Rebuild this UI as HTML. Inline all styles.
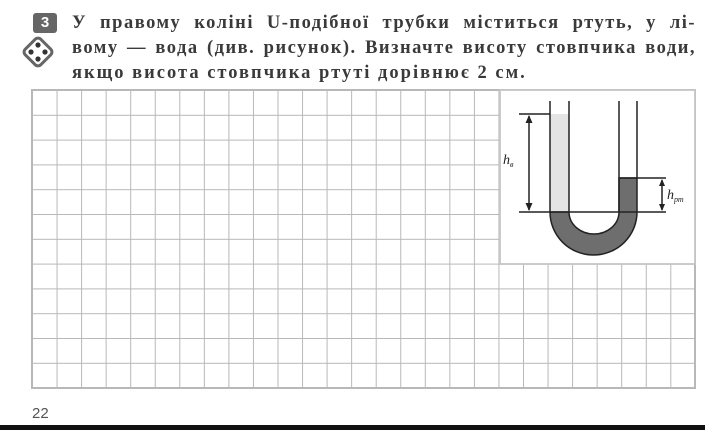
<!DOCTYPE html>
<html><head><meta charset="utf-8"><style>
body{margin:0;width:705px;height:430px;background:#fff;overflow:hidden;position:relative;font-family:"Liberation Serif",serif}
.t{position:absolute;left:72px;width:624px;font-size:18.5px;letter-spacing:1.5px;color:#3a3a3a;font-weight:bold;line-height:24px;text-align:justify;text-align-last:justify;white-space:nowrap}
</style></head><body>
<div style="position:absolute;left:33px;top:13px;width:24px;height:20px;background:#666;border-radius:3px;color:#fff;font:bold 15px 'Liberation Sans',sans-serif;text-align:center;line-height:20px">3</div>
<svg style="position:absolute;left:20px;top:34px" width="36" height="36"><rect x="7" y="7" width="22" height="22" rx="4" transform="rotate(45 18 18)" fill="#fff" stroke="#666" stroke-width="3"/><circle cx="18" cy="11" r="2.6" fill="#333"/><circle cx="11" cy="18" r="2.6" fill="#333"/><circle cx="25" cy="18" r="2.6" fill="#333"/><circle cx="18" cy="25" r="2.6" fill="#333"/></svg>
<div class="t" style="top:11px">У правому коліні U-подібної трубки міститься ртуть, у лі-</div>
<div class="t" style="top:36px">вому — вода (див. рисунок). Визначте висоту стовпчика води,</div>
<div class="t" style="top:61px;width:auto;text-align-last:auto;letter-spacing:2px">якщо висота стовпчика ртуті дорівнює 2 см.</div>
<svg style="position:absolute;left:0;top:0" width="705" height="430">
<defs><pattern id="p" x="32" y="90" width="24.55" height="24.8" patternUnits="userSpaceOnUse"><path d="M0 0H24.55M0 0V24.8" stroke="#b8b8b8" stroke-width="2" fill="none"/></pattern></defs>
<rect x="32" y="90" width="663" height="298" fill="url(#p)"/>
<rect x="32" y="90" width="663" height="298" fill="none" stroke="#b8b8b8" stroke-width="2"/>
<rect x="500" y="90" width="195" height="174" fill="#fff" stroke="#c6c6c6" stroke-width="1.8"/>
<rect x="550" y="114" width="19" height="98" fill="#e4e4e4"/>
<path d="M550 212 A43.5 43 0 0 0 637 212 L637 178 L619 178 L619 212 A25 22 0 0 1 569 212 Z" fill="#6e6e6e" stroke="#222" stroke-width="1.5"/>
<g stroke="#222" stroke-width="1.5" fill="none">
<path d="M550 101V212M569 101V212M619 101V212M637 101V178"/>
<path d="M519 114H550M519 212H666M619 178H666"/>
<path d="M529 116V210M662 180V210"/>
</g>
<g fill="#222"><path d="M529 115l-3.5 8h7zM529 211l-3.5-8h7zM662 179l-3 7h6zM662 211l-3-7h6z"/></g>
<text x="503" y="164" font-family="Liberation Serif" font-style="italic" font-size="14" fill="#222">h<tspan font-size="8" dy="3">в</tspan></text>
<text x="667" y="199" font-family="Liberation Serif" font-style="italic" font-size="14" fill="#222">h<tspan font-size="8" dy="3">рт</tspan></text>
<text x="32" y="418" font-family="Liberation Sans" font-size="15" fill="#555">22</text>
<rect x="0" y="425" width="705" height="5" fill="#111"/>
</svg>
</body></html>
